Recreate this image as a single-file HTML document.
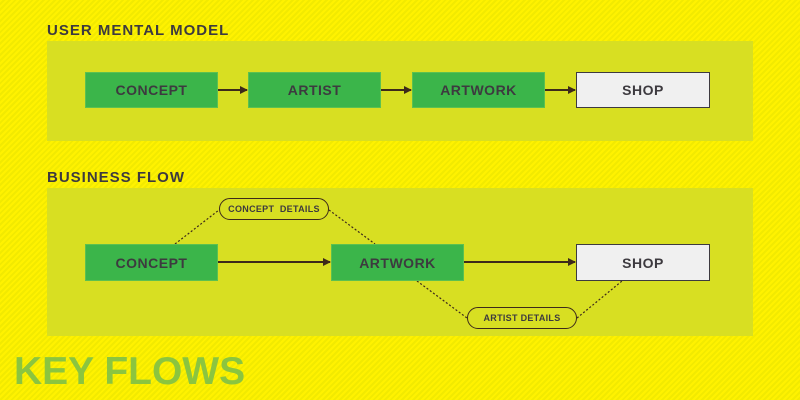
<!DOCTYPE html>
<html><head><style>
body{margin:0;width:800px;height:400px;overflow:hidden;background:#fdf500;background-image:repeating-linear-gradient(135deg,#fff200 0 2px,#f2ea00 2px 4px);font-family:"Liberation Sans",sans-serif;position:relative}
.a{position:absolute}
.t{font-weight:bold;color:#3d3a3f;font-size:15px;letter-spacing:1px}
.p{background:#d8df22}
.b{position:absolute;background:#3bb54a;border:1px solid #5cc050;box-sizing:border-box;display:flex;align-items:center;justify-content:center;font-weight:bold;color:#3d3a3f;font-size:14px;letter-spacing:0.5px}
.s{background:#f0f0f0;border:1px solid #3d3a3f}
.pill{position:absolute;border:1.5px solid #3d2a1a;border-radius:11px;box-sizing:border-box;display:flex;align-items:center;justify-content:center;font-weight:bold;color:#3d3a3f;font-size:9px;letter-spacing:0.3px}
</style></head><body>
<div class="a t" style="left:47px;top:22px">USER MENTAL MODEL</div>
<div class="a p" style="left:47px;top:41px;width:706px;height:100px"></div>
<div class="a t" style="left:47px;top:169px">BUSINESS FLOW</div>
<div class="a p" style="left:47px;top:188px;width:706px;height:148px"></div>
<svg class="a" style="left:0;top:0" width="800" height="400">
<defs><marker id="m" markerWidth="8" markerHeight="8" refX="7" refY="4" orient="auto" markerUnits="userSpaceOnUse"><path d="M0,0 L8,4 L0,8 z" fill="#3d2a1a"/></marker></defs>
<g stroke="#3d2a1a" stroke-width="2" marker-end="url(#m)">
<line x1="218" y1="90" x2="247" y2="90"/><line x1="381" y1="90" x2="411" y2="90"/><line x1="545" y1="90" x2="575" y2="90"/>
<line x1="218" y1="262" x2="330" y2="262"/><line x1="464" y1="262" x2="575" y2="262"/>
</g>
<g stroke="#3d2a1a" stroke-width="1.2" stroke-dasharray="2,2">
<line x1="175" y1="244" x2="219" y2="210"/><line x1="329" y1="210" x2="375" y2="244"/>
<line x1="417" y1="281" x2="467" y2="318"/><line x1="577" y1="318" x2="622" y2="281"/>
</g>
</svg>
<div class="b" style="left:85px;top:72px;width:133px;height:36px">CONCEPT</div>
<div class="b" style="left:248px;top:72px;width:133px;height:36px">ARTIST</div>
<div class="b" style="left:412px;top:72px;width:133px;height:36px">ARTWORK</div>
<div class="b s" style="left:576px;top:72px;width:134px;height:36px">SHOP</div>
<div class="b" style="left:85px;top:244px;width:133px;height:37px">CONCEPT</div>
<div class="b" style="left:331px;top:244px;width:133px;height:37px">ARTWORK</div>
<div class="b s" style="left:576px;top:244px;width:134px;height:37px">SHOP</div>
<div class="pill" style="left:219px;top:198px;width:110px;height:22px">CONCEPT&nbsp; DETAILS</div>
<div class="pill" style="left:467px;top:307px;width:110px;height:22px">ARTIST DETAILS</div>
<div class="a" style="left:14px;top:350px;font-size:39px;font-weight:bold;color:#8bc53f;line-height:44px">KEY FLOWS</div>
</body></html>
